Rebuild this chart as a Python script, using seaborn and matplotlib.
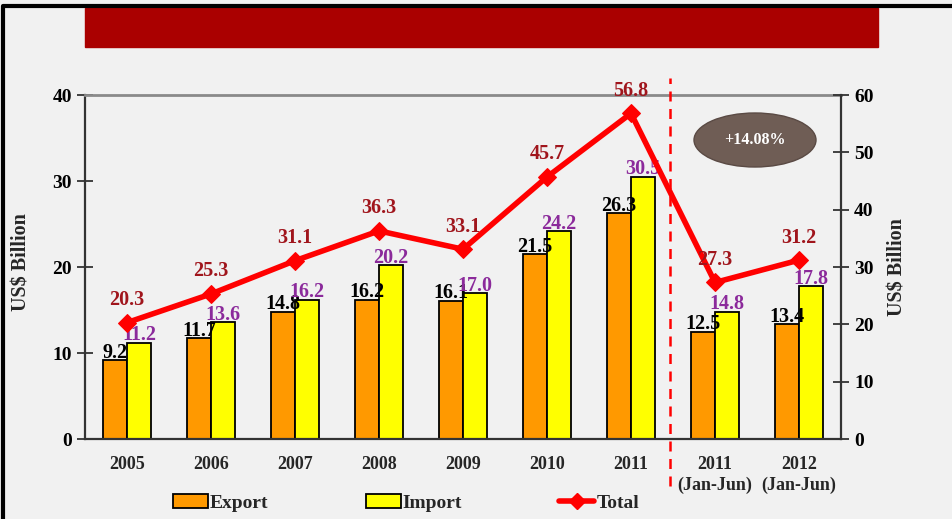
import numpy as np
import pandas as pd
import matplotlib.pyplot as plt
import seaborn as sns
from matplotlib.patches import Rectangle, Ellipse, Patch
from matplotlib.lines import Line2D

years = ["2005", "2006", "2007", "2008", "2009", "2010", "2011",
         "2011\n(Jan-Jun)", "2012\n(Jan-Jun)"]
export = [9.2, 11.7, 14.8, 16.2, 16.1, 21.5, 26.3, 12.5, 13.4]
imports = [11.2, 13.6, 16.2, 20.2, 17.0, 24.2, 30.5, 14.8, 17.8]
total = [20.3, 25.3, 31.1, 36.3, 33.1, 45.7, 56.8, 27.3, 31.2]

sns.set_theme(style="white")
plt.rcParams['font.family'] = ['Liberation Serif', 'DejaVu Serif']
plt.rcParams['font.weight'] = 'bold'

bg = "#F1F1F1"
fig = plt.figure(figsize=(9.52, 5.19), dpi=100, facecolor=bg)
ax = fig.add_axes([85 / 952, 1 - 439 / 519, 756 / 952, 344 / 519])
ax.set_facecolor("none")

df = pd.DataFrame({
    "year": years * 2,
    "value": export + imports,
    "kind": ["Export"] * 9 + ["Import"] * 9,
})
sns.barplot(data=df, x="year", y="value", hue="kind", order=years,
            palette={"Export": "#FF9900", "Import": "#FFFF00"}, saturation=1,
            width=0.57, edgecolor="black", linewidth=1.3, ax=ax, legend=False)

ax.set_xlim(-0.5, 8.5)
ax.set_ylim(0, 40)
ax.set_yticks([0, 10, 20, 30, 40])
ax.set_xlabel("")
ax.set_ylabel("")
ax.tick_params(axis="y", direction="inout", length=11, width=1.3, colors="#333333",
               labelsize=14, labelcolor="black", pad=4)
ax.set_xticks(range(9))
ax.set_xticklabels(years, fontsize=13, fontweight="bold", linespacing=1.3)
ax.tick_params(axis="x", length=0, pad=12)
ax.set_xticks(np.arange(0.5, 8.5, 1), minor=True)
ax.tick_params(axis="x", which="minor", direction="inout", length=11, width=1.3,
               colors="#333333")
for s in ["left", "bottom"]:
    ax.spines[s].set_color("#333333")
    ax.spines[s].set_linewidth(1.6)
ax.spines["right"].set_visible(False)
ax.spines["top"].set_color("#8a8a8a")
ax.spines["top"].set_linewidth(2)

# bar value labels
for cont, col in zip(ax.containers, ["black", "#8B2A9B"]):
    ax.bar_label(cont, fmt="%.1f", fontsize=14.5, fontweight="bold", color=col,
                 padding=-2)

ax2 = ax.twinx()
sns.lineplot(x=np.arange(9), y=total, color="#FF0000", linewidth=4,
             marker="D", markersize=9, markeredgecolor="#FF0000", ax=ax2)
ax2.set_ylim(0, 60)
ax2.set_yticks(range(0, 61, 10))
ax2.tick_params(axis="y", direction="inout", length=11, width=1.3, colors="#333333",
                labelsize=14, labelcolor="black", pad=4)
for s in ["left", "top", "bottom"]:
    ax2.spines[s].set_visible(False)
ax2.spines["right"].set_color("#333333")
ax2.spines["right"].set_linewidth(1.6)
for i, v in enumerate(total):
    ax2.annotate(f"{v:.1f}", (i, v), xytext=(0, 9), textcoords="offset points",
                 ha="center", va="bottom", fontsize=14.5, fontweight="bold",
                 color="#A0151C")

# dashed separator
ax.plot([6.47, 6.47], [-5.5, 42], color="#FF0000", linestyle=(0, (4, 3)),
        linewidth=1.8, clip_on=False, zorder=5)

# axis titles
fig.text(22 / 952, 1 - 262 / 519, "US$ Billion", rotation=90, ha="center",
         va="center", fontsize=14.5, fontweight="bold")
fig.text(897 / 952, 1 - 267 / 519, "US$ Billion", rotation=90, ha="center",
         va="center", fontsize=14.5, fontweight="bold")

# title bar and frame
fig.patches.append(Rectangle((85 / 952, 1 - 47 / 519), 793 / 952, 39 / 519,
                             transform=fig.transFigure, color="#AA0000", zorder=0))
fig.lines.append(Line2D([3 / 952, 3 / 952, 1], [0, 1 - 6 / 519, 1 - 6 / 519],
                        transform=fig.transFigure, color="black", linewidth=3))

# growth badge
fig.patches.append(Ellipse((755 / 952, 1 - 140 / 519), 122 / 952, 54 / 519,
                           transform=fig.transFigure, facecolor="#6F5D55",
                           edgecolor="#5a4a44", zorder=6))
fig.text(755 / 952, 1 - 140 / 519, "+14.08%", ha="center", va="center",
         fontsize=11.5, fontweight="bold", color="white", zorder=7)

handles = [
    Patch(facecolor="#FF9900", edgecolor="black", linewidth=1.3, label="Export"),
    Patch(facecolor="#FFFF00", edgecolor="black", linewidth=1.3, label="Import"),
    Line2D([], [], color="#FF0000", linewidth=4, marker="D", markersize=8,
           label="Total"),
]
fig.legend(handles=handles, loc="center", bbox_to_anchor=(406 / 952, 1 - 503 / 519),
           ncol=3, frameon=False, fontsize=14, columnspacing=5.0,
           handlelength=1.8, handletextpad=0.1)

fig.savefig("out.png", dpi=100, facecolor=bg)
